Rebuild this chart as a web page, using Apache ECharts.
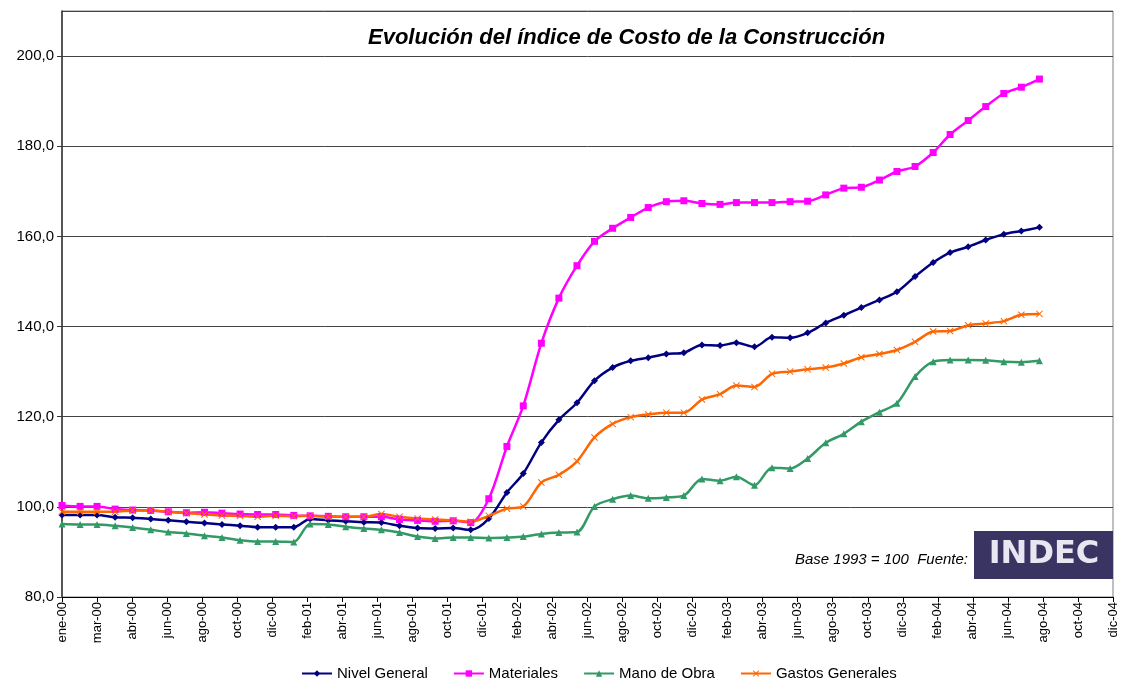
<!DOCTYPE html>
<html>
<head>
<meta charset="utf-8">
<title>Evolución del índice de Costo de la Construcción</title>
<script src="https://cdn.jsdelivr.net/npm/echarts@6/dist/echarts.min.js"></script>
<style>
  html, body { margin: 0; padding: 0; background: #fff; }
  #chart { width: 1125px; height: 679px; }
</style>
</head>
<body>
<div id="chart"></div>
<script>
// ── datos: un punto por mes, ene-00 .. ago-04 ──

const months = [
  'ene-00','feb-00','mar-00','abr-00','may-00','jun-00','jul-00','ago-00','sep-00','oct-00','nov-00','dic-00',
  'ene-01','feb-01','mar-01','abr-01','may-01','jun-01','jul-01','ago-01','sep-01','oct-01','nov-01','dic-01',
  'ene-02','feb-02','mar-02','abr-02','may-02','jun-02','jul-02','ago-02','sep-02','oct-02','nov-02','dic-02',
  'ene-03','feb-03','mar-03','abr-03','may-03','jun-03','jul-03','ago-03','sep-03','oct-03','nov-03','dic-03',
  'ene-04','feb-04','mar-04','abr-04','may-04','jun-04','jul-04','ago-04'
];

// eje de fechas de Excel: una marca cada 60 días desde el 1-ene-00
const xTickLabels = [
  'ene-00','mar-00','abr-00','jun-00','ago-00','oct-00','dic-00','feb-01','abr-01','jun-01','ago-01',
  'oct-01','dic-01','feb-02','abr-02','jun-02','ago-02','oct-02','dic-02','feb-03','abr-03','jun-03',
  'ago-03','oct-03','dic-03','feb-04','abr-04','jun-04','ago-04','oct-04','dic-04'
];

const nivelGeneral = [
  98.2, 98.2, 98.2, 97.7, 97.6, 97.3, 97.0, 96.7, 96.4, 96.1, 95.8, 95.5,
  95.5, 95.5, 97.3, 97.0, 96.8, 96.6, 96.5, 95.8, 95.3, 95.2, 95.3, 94.9,
  97.4, 103.2, 107.4, 114.3, 119.3, 123.1, 128.0, 130.9, 132.4, 133.1, 133.9, 134.2,
  135.9, 135.8, 136.4, 135.5, 137.6, 137.5, 138.6, 140.8, 142.5, 144.2, 145.9, 147.7,
  151.1, 154.2, 156.4, 157.7, 159.2, 160.5, 161.2, 162.0
];

const materiales = [
  100.3, 100.1, 100.1, 99.5, 99.3, 99.2, 98.9, 98.7, 98.8, 98.6, 98.4, 98.3,
  98.3, 98.1, 98.0, 97.9, 97.8, 97.8, 97.8, 97.2, 97.0, 96.8, 96.9, 96.5,
  101.8, 113.4, 122.4, 136.3, 146.3, 153.5, 158.9, 161.8, 164.2, 166.4, 167.7, 167.9,
  167.3, 167.1, 167.5, 167.5, 167.5, 167.7, 167.8, 169.2, 170.7, 170.9, 172.5, 174.4,
  175.5, 178.6, 182.6, 185.7, 188.8, 191.7, 193.1, 194.9
];

const manoDeObra = [
  96.2, 96.1, 96.1, 95.8, 95.4, 94.9, 94.4, 94.1, 93.6, 93.2, 92.6, 92.3,
  92.3, 92.2, 96.2, 96.1, 95.6, 95.2, 94.9, 94.3, 93.4, 93.0, 93.2, 93.2,
  93.1, 93.2, 93.4, 94.0, 94.3, 94.4, 100.1, 101.7, 102.5, 101.9, 102.1, 102.5,
  106.2, 105.8, 106.7, 104.8, 108.7, 108.5, 110.7, 114.2, 116.2, 118.9, 121.0, 123.0,
  128.9, 132.2, 132.6, 132.6, 132.5, 132.2, 132.1, 132.4
];

const gastosGenerales = [
  98.9, 98.9, 98.9, 98.9, 99.2, 99.2, 98.9, 98.6, 98.3, 98.1, 98.0, 97.8,
  98.0, 97.9, 98.0, 97.8, 97.8, 97.8, 98.4, 97.8, 97.4, 97.2, 97.0, 96.7,
  98.0, 99.6, 100.1, 105.4, 107.1, 110.1, 115.4, 118.4, 119.9, 120.5, 120.9, 120.9,
  123.8, 125.0, 126.9, 126.6, 129.5, 130.0, 130.5, 130.9, 131.8, 133.2, 133.9, 134.8,
  136.6, 138.9, 139.0, 140.3, 140.7, 141.2, 142.6, 142.8
];

// ── posición en días desde el 1-ene-00 ──

const DAY = 86400000;
const T0 = Date.UTC(2000, 0, 1);

function toPoints(values) {
  return values.map((v, i) => [(Date.UTC(2000, i, 1) - T0) / DAY, v]);
}

const FONT = '"Liberation Sans", Arial, sans-serif';
const X_SYMBOL = 'path://M1,0L5,4L9,0L10,1L6,5L10,9L9,10L5,6L1,10L0,9L4,5L0,1Z';

function lineSeries(name, values, color, symbol, size) {
  return {
    name: name,
    type: 'line',
    data: toPoints(values),
    smooth: 0.3,
    symbol: symbol,
    symbolSize: size,
    showSymbol: true,
    lineStyle: { color: color, width: 2.5 },
    itemStyle: { color: color, borderWidth: 0 },
  };
}

const chart = echarts.init(document.getElementById('chart'));

chart.setOption({
  animation: false,
  backgroundColor: '#fff',
  textStyle: { fontFamily: FONT },
  title: {
    text: 'Evolución del índice de Costo de la Construcción',
    left: 363,
    top: 22,
    textStyle: { fontFamily: FONT, fontSize: 22, fontWeight: 'bold', fontStyle: 'italic', color: '#000' },
  },
  legend: {
    top: 661,
    left: 296,
    itemWidth: 30,
    itemHeight: 8,
    itemGap: 25,
    textStyle: { fontFamily: FONT, fontSize: 15, color: '#000' },
    data: ['Nivel General', 'Materiales', 'Mano de Obra', 'Gastos Generales'],
  },
  grid: {
    left: 62, right: 12, top: 11, bottom: 82,
    show: true, borderColor: '#808080', borderWidth: 1,
    containLabel: false,
  },
  xAxis: {
    type: 'value',
    min: 0,
    max: 1800,
    interval: 60,
    axisLine: { show: true, lineStyle: { color: '#000', width: 1 } },
    axisTick: { show: true, length: 5, lineStyle: { color: '#000' } },
    axisLabel: {
      rotate: 90,
      margin: 5,
      fontFamily: FONT,
      fontSize: 13,
      color: '#000',
      formatter: v => xTickLabels[Math.round(v / 60)] || '',
    },
    splitLine: { show: false },
  },
  yAxis: {
    type: 'value',
    min: 80,
    max: 210,
    interval: 20,
    axisLine: { show: true, lineStyle: { color: '#333', width: 1.5 } },
    axisTick: { show: true, length: 5, lineStyle: { color: '#333' } },
    axisLabel: {
      showMaxLabel: false,
      margin: 8,
      fontFamily: FONT,
      fontSize: 15,
      color: '#000',
      formatter: v => v.toFixed(1).replace('.', ','),
    },
    splitLine: { show: true, lineStyle: { color: '#444', width: 1 } },
  },
  graphic: [
    {
      type: 'text',
      right: 1125 - 968,
      top: 552,
      style: {
        text: 'Base 1993 = 100  Fuente:',
        font: 'italic 15px "Liberation Sans", Arial, sans-serif',
        fill: '#000',
      },
    },
    {
      type: 'group',
      left: 974,
      top: 531,
      children: [
        { type: 'rect', shape: { x: 0, y: 0, width: 139, height: 48 }, style: { fill: '#3a3463' } },
        {
          type: 'text',
          x: 70, y: 24,
          style: {
            text: 'INDEC',
            font: 'bold 32px "DejaVu Sans", sans-serif',
            fill: '#e8e6f0',
            align: 'center',
            verticalAlign: 'middle',
          },
        },
      ],
    },
  ],
  series: [
    lineSeries('Nivel General', nivelGeneral, '#000080', 'diamond', 7),
    lineSeries('Materiales', materiales, '#ff00ff', 'rect', 7),
    lineSeries('Mano de Obra', manoDeObra, '#339966', 'triangle', 7),
    lineSeries('Gastos Generales', gastosGenerales, '#ff6600', X_SYMBOL, 7),
  ],
});

window.addEventListener('resize', () => chart.resize());
</script>
</body>
</html>
